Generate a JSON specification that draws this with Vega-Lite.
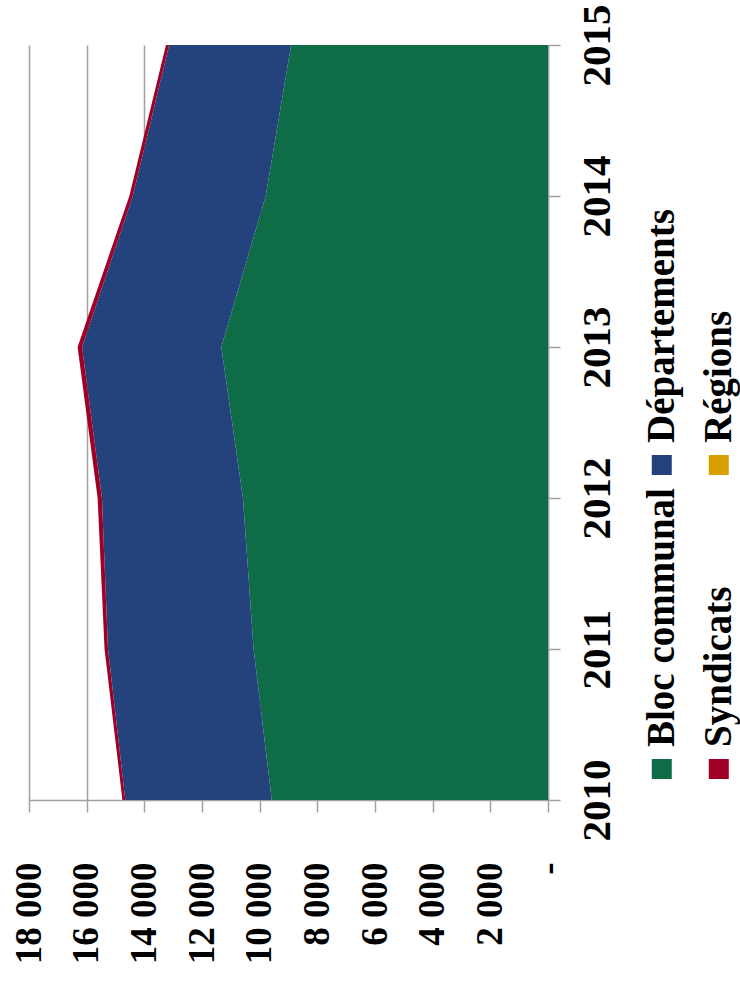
{
  "$schema": "https://vega.github.io/schema/vega-lite/v6.json",
  "background": "white",
  "padding": {"left": 10, "top": 3, "right": 0, "bottom": 0},
  "config": {"view": {"stroke": null}, "font": "Liberation Serif", "concat": {"spacing": 25}},
  "datasets": {
    "series": [
      {"annee": 2010, "serie": "Bloc communal", "ordre": 1, "valeur": 9580},
      {"annee": 2011, "serie": "Bloc communal", "ordre": 1, "valeur": 10210},
      {"annee": 2012, "serie": "Bloc communal", "ordre": 1, "valeur": 10580},
      {"annee": 2013, "serie": "Bloc communal", "ordre": 1, "valeur": 11330},
      {"annee": 2014, "serie": "Bloc communal", "ordre": 1, "valeur": 9790},
      {"annee": 2015, "serie": "Bloc communal", "ordre": 1, "valeur": 8910},
      {"annee": 2010, "serie": "Départements", "ordre": 2, "valeur": 5080},
      {"annee": 2011, "serie": "Départements", "ordre": 2, "valeur": 5050},
      {"annee": 2012, "serie": "Départements", "ordre": 2, "valeur": 4890},
      {"annee": 2013, "serie": "Départements", "ordre": 2, "valeur": 4830},
      {"annee": 2014, "serie": "Départements", "ordre": 2, "valeur": 4610},
      {"annee": 2015, "serie": "Départements", "ordre": 2, "valeur": 4230},
      {"annee": 2010, "serie": "Syndicats", "ordre": 3, "valeur": 100},
      {"annee": 2011, "serie": "Syndicats", "ordre": 3, "valeur": 120},
      {"annee": 2012, "serie": "Syndicats", "ordre": 3, "valeur": 150},
      {"annee": 2013, "serie": "Syndicats", "ordre": 3, "valeur": 155},
      {"annee": 2014, "serie": "Syndicats", "ordre": 3, "valeur": 120},
      {"annee": 2015, "serie": "Syndicats", "ordre": 3, "valeur": 110},
      {"annee": 2010, "serie": "Régions", "ordre": 4, "valeur": 0},
      {"annee": 2011, "serie": "Régions", "ordre": 4, "valeur": 0},
      {"annee": 2012, "serie": "Régions", "ordre": 4, "valeur": 0},
      {"annee": 2013, "serie": "Régions", "ordre": 4, "valeur": 0},
      {"annee": 2014, "serie": "Régions", "ordre": 4, "valeur": 0},
      {"annee": 2015, "serie": "Régions", "ordre": 4, "valeur": 0}
    ],
    "legende": [
      {"serie": "Bloc communal", "col": 0, "rang": 0},
      {"serie": "Départements", "col": 0, "rang": 1},
      {"serie": "Syndicats", "col": 1, "rang": 0},
      {"serie": "Régions", "col": 1, "rang": 1}
    ]
  },
  "hconcat": [
    {
      "width": 519,
      "height": 755,
      "data": {"name": "series"},
      "mark": {"type": "area", "orient": "horizontal"},
      "encoding": {
        "y": {
          "field": "annee", "type": "quantitative",
          "scale": {"domain": [2010, 2015], "nice": false, "zero": false},
          "axis": {
            "orient": "right", "values": [2010, 2011, 2012, 2013, 2014, 2015], "format": "d",
            "title": null, "grid": false,
            "domainColor": "#a0a0a0", "domainWidth": 1.5, "tickColor": "#a0a0a0", "tickWidth": 1.5, "tickSize": 12,
            "labelAngle": 270, "labelAlign": "center", "labelBaseline": "top", "labelPadding": 17,
            "labelFontSize": 41, "labelFontWeight": "bold", "labelColor": "black", "labelFont": "Liberation Serif",
            "labelFlush": false, "labelOverlap": false
          }
        },
        "x": {
          "field": "valeur", "type": "quantitative", "stack": "zero",
          "scale": {"domain": [0, 18000], "reverse": true, "nice": false, "zero": true},
          "axis": {
            "orient": "bottom", "values": [0, 2000, 4000, 6000, 8000, 10000, 12000, 14000, 16000, 18000],
            "title": null, "grid": true, "gridColor": "#a0a0a0", "gridWidth": 1.5,
            "domainColor": "#a0a0a0", "domainWidth": 1.5, "tickColor": "#a0a0a0", "tickWidth": 1.5, "tickSize": 12,
            "labelAngle": 270, "labelAlign": "right", "labelBaseline": "middle", "labelPadding": 50,
            "labelFontSize": 37, "labelFontWeight": "bold", "labelColor": "black", "labelFont": "Liberation Serif",
            "labelFlush": false, "labelOverlap": false,
            "labelExpr": "datum.value == 0 ? '-\u00a0\u00a0' : replace(format(datum.value, ','), ',', ' ')"
          }
        },
        "color": {
          "field": "serie", "type": "nominal",
          "scale": {"domain": ["Bloc communal", "Départements", "Syndicats", "Régions"], "range": ["#0E6D46", "#24437C", "#A10026", "#D99E00"]},
          "legend": null
        },
        "order": {"field": "ordre", "type": "quantitative"}
      }
    },
    {
      "width": 100,
      "height": 755,
      "data": {"name": "legende"},
      "encoding": {
        "x": {"field": "col", "type": "quantitative", "scale": {"domain": [-0.347, 1.407], "nice": false, "zero": false}, "axis": null},
        "y": {"field": "rang", "type": "quantitative", "scale": {"domain": [-0.102, 2.3816], "nice": false, "zero": false}, "axis": null}
      },
      "layer": [
        {
          "mark": {"type": "point", "shape": "square", "filled": true, "size": 400, "opacity": 1, "strokeWidth": 0},
          "encoding": {
            "color": {
              "field": "serie", "type": "nominal",
              "scale": {"domain": ["Bloc communal", "Départements", "Syndicats", "Régions"], "range": ["#0E6D46", "#24437C", "#A10026", "#D99E00"]},
              "legend": null
            }
          }
        },
        {
          "mark": {"type": "text", "angle": 270, "align": "left", "baseline": "middle", "dx": 22, "fontSize": 39, "fontWeight": "bold", "font": "Liberation Serif", "color": "black"},
          "encoding": {"text": {"field": "serie", "type": "nominal"}}
        }
      ]
    }
  ]
}
